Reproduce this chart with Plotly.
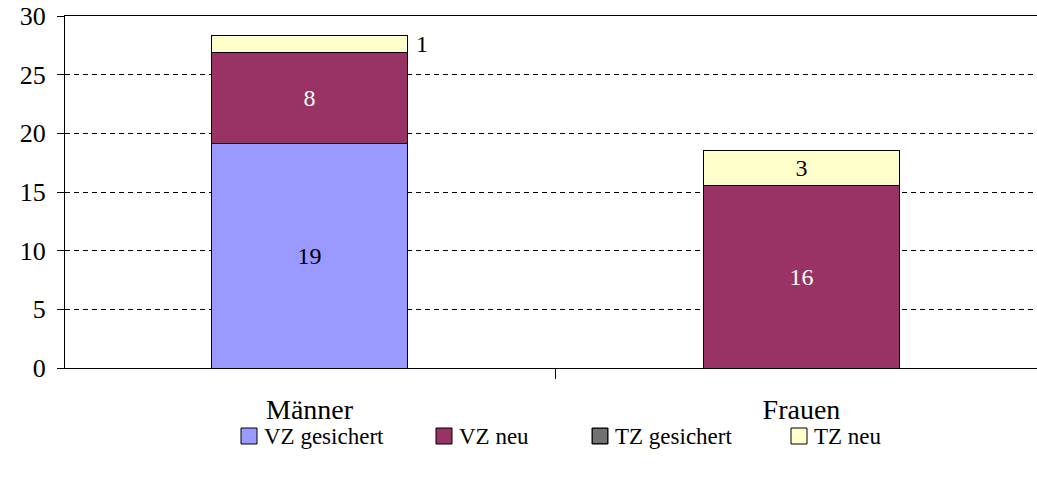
import plotly.graph_objects as go

# Beschäftigte nach Geschlecht und Art des Arbeitsverhältnisses
categories = ["Männer", "Frauen"]
vz_gesichert = [19.1, 0]
vz_neu = [7.75, 15.57]
tz_gesichert = [0, 0]
tz_neu = [1.45, 2.96]

series_names = ["VZ gesichert", "VZ neu", "TZ gesichert", "TZ neu"]
series_colors = ["#9999FF", "#993366", "#2A2A2A", "#FFFFCC"]
y_ticks = [0, 5, 10, 15, 20, 25, 30]

FONT = "Liberation Serif, Times New Roman, serif"

W, H = 1037, 477
M_L, M_R, M_T, M_B = 65, 0, 16, 109
PLOT_W = W - M_L - M_R
PLOT_H = H - M_T - M_B


def labels(values):
    return [f"{v:.0f}" if v > 0 else "" for v in values]


def px_x(px):
    return (px - M_L) / PLOT_W


def px_y(py):
    return (H - M_B - py) / PLOT_H


fig = go.Figure()

fig.add_trace(go.Bar(
    name=series_names[0], x=categories, y=vz_gesichert,
    marker=dict(color=series_colors[0], line=dict(color="black", width=1)),
    text=labels(vz_gesichert), textposition="inside", insidetextanchor="middle",
    textfont=dict(color="black", size=24, family=FONT),
))
fig.add_trace(go.Bar(
    name=series_names[1], x=categories, y=vz_neu,
    marker=dict(color=series_colors[1], line=dict(color="black", width=1)),
    text=labels(vz_neu), textposition="inside", insidetextanchor="middle",
    textfont=dict(color="white", size=24, family=FONT),
))
fig.add_trace(go.Bar(
    name=series_names[2], x=categories, y=tz_gesichert,
    marker=dict(color=series_colors[2], line=dict(color="black", width=1),
                pattern=dict(shape="+", fgcolor="#8A8A8A", size=3, solidity=0.3)),
    textposition="none",
))
# small top segment of the first bar gets its label beside the bar
tz_text = labels(tz_neu)
fig.add_trace(go.Bar(
    name=series_names[3], x=categories, y=tz_neu,
    marker=dict(color=series_colors[3], line=dict(color="black", width=1)),
    text=["", tz_text[1]], textposition="inside", insidetextanchor="middle",
    textfont=dict(color="black", size=24, family=FONT),
))
fig.add_annotation(
    x=0.2, xref="x", xanchor="left", xshift=6,
    y=vz_gesichert[0] + vz_neu[0] + tz_neu[0] / 2, yref="y",
    text=tz_text[0], showarrow=False,
    font=dict(color="black", size=24, family=FONT),
)

# legend drawn below the plot: boxed swatch followed by the series name
legend_left = [241, 436, 592, 791]
legend_cy = 436
sw = 16
for name, color, left in zip(series_names, series_colors, legend_left):
    fig.add_shape(
        type="rect", xref="paper", yref="paper",
        x0=px_x(left), x1=px_x(left + sw),
        y0=px_y(legend_cy + sw / 2), y1=px_y(legend_cy - sw / 2),
        fillcolor=color, line=dict(color="black", width=1),
    )
    if name == "TZ gesichert":
        # hatched swatch
        for k in range(2, sw, 2):
            fig.add_shape(type="line", xref="paper", yref="paper",
                          x0=px_x(left + k), x1=px_x(left + k),
                          y0=px_y(legend_cy + sw / 2 - 1), y1=px_y(legend_cy - sw / 2 + 1),
                          line=dict(color="#8A8A8A", width=1))
            fig.add_shape(type="line", xref="paper", yref="paper",
                          x0=px_x(left + 1), x1=px_x(left + sw - 1),
                          y0=px_y(legend_cy - sw / 2 + k), y1=px_y(legend_cy - sw / 2 + k),
                          line=dict(color="#8A8A8A", width=1))
    fig.add_annotation(
        xref="paper", yref="paper",
        x=px_x(left + sw + 5), xanchor="left",
        y=px_y(legend_cy), yanchor="middle",
        text=name, showarrow=False,
        font=dict(color="black", size=23, family=FONT),
    )

fig.update_layout(
    barmode="stack",
    bargap=0.6,
    width=W, height=H,
    margin=dict(l=M_L, r=M_R, t=M_T, b=M_B),
    paper_bgcolor="white", plot_bgcolor="white",
    font=dict(family=FONT, color="black"),
    showlegend=False,
    uniformtext=dict(minsize=10, mode="show"),
)

fig.update_xaxes(
    type="category",
    range=[-0.497, 1.4787],
    showline=True, linecolor="black", linewidth=1, mirror=True,
    ticks="outside", tickson="boundaries", ticklen=10, tickcolor="black",
    tickfont=dict(size=28, family=FONT),
    ticklabelstandoff=16,
    showgrid=False,
)
fig.update_yaxes(
    range=[0, 30],
    tickvals=y_ticks,
    showline=True, linecolor="black", linewidth=1,
    ticks="outside", ticklen=7, tickcolor="black",
    tickfont=dict(size=26, family=FONT),
    ticklabelstandoff=6,
    showgrid=True, gridcolor="black", gridwidth=1, griddash="5px,4px",
    zeroline=False,
)

fig.write_html("out.html")
